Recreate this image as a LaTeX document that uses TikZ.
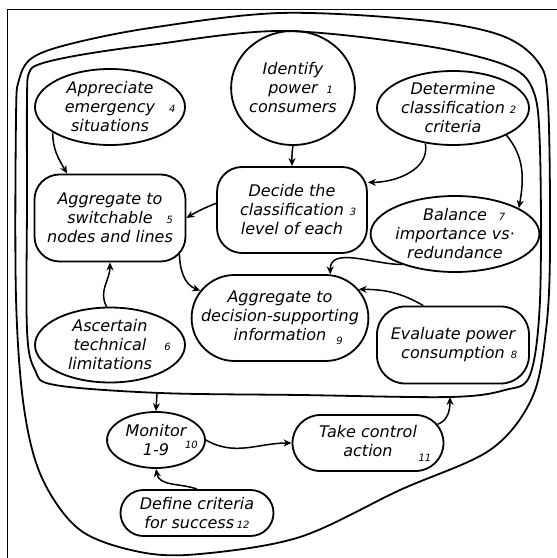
\documentclass[tikz,border=0pt]{standalone}
\usepackage{fontspec}
\setmainfont{DejaVu Sans}
\usetikzlibrary{arrows.meta,shapes.geometric,shapes.misc}
\newcommand{\stepnum}[1]{{\fontsize{10}{10}\selectfont\itshape #1}}

\begin{document}
\begin{tikzpicture}[x=1pt, y=1pt, line width=1.8pt,
	every node/.style={font=\fontsize{16}{19}\selectfont\itshape, align=center, inner sep=0pt},
	procoval/.style={draw, ellipse},
	procbox/.style={draw, rectangle, rounded corners=25pt},
	procpill/.style={draw, rounded rectangle},
	flow/.style={-{Stealth[length=8pt, width=7pt]}, line width=1.5pt}]
	\useasboundingbox (0,0) rectangle (557,558);
	% frame
	\draw[line width=1pt] (7,0) -- (7,548) -- (557,548);

	% outer and inner loop
	\draw plot[smooth cycle, tension=0.55] coordinates {(16,260) (16,440) (19,478) (32,500) (70,514) (150,530) (280,545) (420,538) (500,523) (538,496) (548,455) (550,308) (546,228) (532,160) (490,108) (400,68) (300,21) (200,4) (140,6) (80,28) (42,80) (24,150)};
	\draw plot[smooth cycle, tension=0.55] coordinates {(27,358) (27,460) (29,485) (40,494) (80,503) (150,513) (280,527) (420,513) (505,493) (533,468) (540,408) (540,258) (530,183) (505,168) (450,161) (300,163) (160,165) (55,173) (35,188) (27,228)};
	\coordinate (loopout) at (157,165);
	\coordinate (loopin) at (450,161);

	% steps 1-9
	\node[procoval, minimum width=112pt, minimum height=114pt] (identify) at (293,470) {Identify\\power\rlap{\hspace{9pt}\stepnum{1}}\\consumers};
	\node[procoval, minimum width=152pt, minimum height=74pt] (criteria) at (453,450) {Determine\\classification\rlap{\hspace{5pt}\stepnum{2}}\\criteria};
	\node[procbox, minimum width=150pt, minimum height=86pt] (decide) at (292,348) {Decide the\\classification\rlap{\hspace{6pt}\stepnum{3}}\\level of each};
	\node[procoval, minimum width=150pt, minimum height=76pt] (emergency) at (110,451) {Appreciate\\emergency\rlap{\hspace{14pt}\stepnum{4}}\\situations};
	\node[procbox, minimum width=151pt, minimum height=87pt] (switchable) at (110,340) {Aggregate to\\switchable\rlap{\hspace{14pt}\stepnum{5}}\\nodes and lines};
	\node[procoval, minimum width=150pt, minimum height=75pt] (limits) at (110,213) {Ascertain\\technical\rlap{\hspace{18pt}\stepnum{6}}\\limitations};
	\node[procoval, minimum width=152pt, minimum height=76pt] (balance) at (455,324) {Balance\rlap{\hspace{12pt}\stepnum{7}}\\importance vs·\\redundance};
	\node[procpill, minimum width=175pt, minimum height=86pt] (decision) at (280,240) {Aggregate to\\decision-supporting\\information\rlap{\hspace{10pt}\raisebox{-4pt}{\stepnum{9}}}};
	\node[procbox, rounded corners=28pt, minimum width=152pt, minimum height=77pt] (consumption) at (453,213) {Evaluate power\\consumption\rlap{\hspace{6pt}\stepnum{8}}};

	% steps 10-12
	\node[procoval, minimum width=98pt, minimum height=56pt] (monitor) at (156,118) {Monitor\\1-9\rlap{\hspace{16pt}\raisebox{7pt}{\stepnum{10}}}};
	\node[procpill, minimum width=151pt, minimum height=56pt] (control) at (368,115) {Take control\\action\rlap{\hspace{26pt}\raisebox{-5pt}{\stepnum{11}}}};
	\node[procpill, minimum width=153pt, minimum height=46pt] (success) at (197,45) {Define criteria\\for success\,\stepnum{12}};

	% connectors
	\draw[flow] (identify.south) to[out=-100, in=90] (decide.north);
	\draw[flow] (criteria.232) to[out=-80, in=0] (decide.20);
	\draw[flow] (criteria.-27) to[out=-50, in=80] (balance.22);
	\draw[flow] (decide.175) to[bend right=5] (switchable.east);
	\draw[flow] (emergency.204) to[out=-90, in=120] (switchable.134);
	\draw[flow] ([xshift=-7pt]switchable.-24) to[out=-90, in=160] (decision.161);
	\draw[flow] (limits.95) to[out=120, in=-90] (switchable.south);
	\draw[flow] (balance.210) to[out=180, in=90] (decision.41);
	\draw[flow] (consumption.127) to[out=150, in=0] (decision.20);
	\draw[flow] (loopout) -- (monitor.north);
	\draw[flow] (monitor.east) to[out=-30, in=180] (control.west);
	\draw[flow] (control.15) to[out=20, in=-90] (loopin);
	\draw[flow] (success.north) to[out=160, in=-80] (monitor.south);
\end{tikzpicture}
\end{document}
